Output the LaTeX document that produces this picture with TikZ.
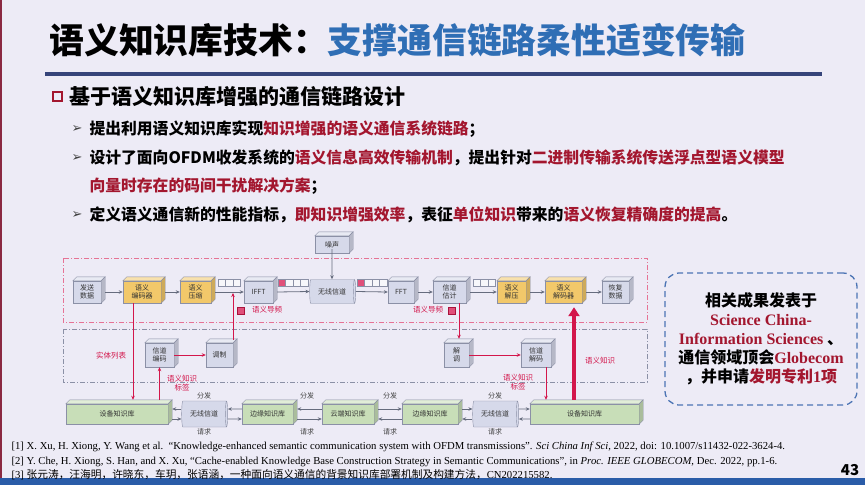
\documentclass[tikz,border=0pt]{standalone}
\usepackage{fontspec}
\setmainfont{Noto Sans CJK SC}
\newfontfamily\tms{Liberation Serif}
\newfontfamily\dejavu{DejaVu Sans}
\usetikzlibrary{arrows.meta,positioning,calc,shapes.geometric}

\definecolor{slidebg}{HTML}{EDEBF6}
\definecolor{titleblue}{HTML}{2F6EB5}
\definecolor{rulenavy}{HTML}{36447A}
\definecolor{darkred}{HTML}{A3162E}
\definecolor{linkred}{HTML}{D3164B}
\definecolor{boxgray}{HTML}{D6D9EA}
\definecolor{boxgold}{HTML}{F2C86A}
\definecolor{boxgreen}{HTML}{C8DEB8}
\definecolor{edgegray}{HTML}{8B90A6}
\definecolor{flowgray}{HTML}{666C7E}
\definecolor{pilotpink}{HTML}{E0507A}
\definecolor{notebox}{HTML}{4C74B4}
\definecolor{leftbar}{HTML}{8B2942}
\definecolor{bandblue}{HTML}{2A5CA8}

\tikzset{
  blk/.style={draw=edgegray,fill=#1,line width=0.4pt,inner sep=0pt,align=center,
    font=\fontsize{7}{8}\selectfont,text=black!80},
  blk/.default=boxgray,
  chan/.style={cylinder,shape aspect=0.35,draw=edgegray,fill=boxgray,inner sep=0pt,
    minimum height=46pt,minimum width=24pt,font=\fontsize{7}{8}\selectfont,text=black!80},
  cell/.style={draw=edgegray,fill=white!80!boxgray,minimum width=7.5pt,minimum height=7pt,
    inner sep=0pt,line width=0.4pt},
  flow/.style={flowgray,line width=0.8pt,-{Stealth[length=4pt,width=3.5pt]}},
  sem/.style={linkred,line width=0.9pt,-{Stealth[length=4pt,width=3.5pt]}},
  redtag/.style={text=linkred,font=\fontsize{7.5}{8.5}\selectfont,align=center},
  graytag/.style={text=black!75,font=\fontsize{7}{8}\selectfont},
  bul/.style={anchor=west,font=\fontsize{15.8}{18}\selectfont\bfseries},
  refline/.style={anchor=west,font=\tms\fontsize{10.7}{12}\selectfont},
  zone/.style={line width=0.8pt,dash pattern=on 5pt off 2pt on 1pt off 2pt},
}

\begin{document}
\begin{tikzpicture}[x=1pt,y=-1pt]
  \useasboundingbox (0,0) rectangle (865,485);
  \fill[slidebg] (0,0) rectangle (865,485);
  \draw[leftbar,line width=2pt] (1,0) -- (1,485);
  \fill[bandblue] (0,478) rectangle (865,485);

  % title
  \node[anchor=west,font=\fontsize{34.8}{38}\selectfont\bfseries] (title) at (46,40)
    {语义知识库技术：\textcolor{titleblue}{支撑通信链路柔性适变传输}};
  \fill[rulenavy] (45,72) rectangle (822,76);

  % heading and bullets
  \draw[darkred,line width=1.6pt] (53,92) rectangle (62,101);
  \node[anchor=west,font=\fontsize{21}{24}\selectfont\bfseries] (head) at (66,97)
    {基于语义知识库增强的通信链路设计};
  \foreach \y in {129,158,215}
    \node[text=black!75,font=\dejavu\fontsize{13}{14}\selectfont] (arr\y) at (77,\y) {➢};
  \node[bul] (b1) at (86,129)
    {提出利用语义知识库实现\textcolor{darkred}{知识增强的语义通信系统链路}；};
  \node[bul] (b2) at (86,158)
    {设计了面向OFDM收发系统的\textcolor{darkred}{语义信息高效传输机制}，提出针对\textcolor{darkred}{二进制传输系统传送浮点型语义模型}};
  \node[bul] (b3) at (86,186)
    {\textcolor{darkred}{向量时存在的码间干扰解决方案}；};
  \node[bul] (b4) at (86,215)
    {定义语义通信新的性能指标，\textcolor{darkred}{即知识增强效率}，表征\textcolor{darkred}{单位知识}带来的\textcolor{darkred}{语义恢复精确度的提高}。};

  % zones
  \draw[zone,draw=pilotpink!80!white] (63,258) rectangle (647,322);
  \draw[zone,draw=edgegray] (63,329) rectangle (647,382);

  % upper chain
  \node[blk,minimum width=28pt,minimum height=22pt] (send) at (87,292) {发送\\数据};
  \node[blk=boxgold,minimum width=38pt,minimum height=22pt] (enc) at (142,292) {语义\\编码器};
  \node[blk=boxgold,minimum width=31pt,minimum height=22pt] (cmp) at (195.5,292) {语义\\压缩};
  \node[blk,minimum width=29pt,minimum height=22pt] (ifft) at (258.5,292) {IFFT};
  \node[chan] (ch1) at (332,291.5) {无线信道};
  \node[blk,minimum width=34pt,minimum height=17pt] (noise) at (332,244.5) {噪声};
  \node[blk,minimum width=26pt,minimum height=22pt] (fft) at (401,292) {FFT};
  \node[blk,minimum width=33pt,minimum height=22pt] (est) at (449.5,292) {信道\\估计};
  \node[blk=boxgold,minimum width=29pt,minimum height=22pt] (dcmp) at (511.5,292) {语义\\解压};
  \node[blk=boxgold,minimum width=37pt,minimum height=22pt] (dec) at (563.5,292) {语义\\解码器};
  \node[blk,minimum width=27pt,minimum height=22pt] (recv) at (615.5,292) {恢复\\数据};

  % symbol registers
  \foreach \i in {0,1,2} \node[cell] (ra\i) at (221.75+7.5*\i,283) {};
  \foreach \i in {0,1,2,3} \node[cell] (rb\i) at (281.75+7.5*\i,283) {};
  \foreach \i in {0,1,2,3} \node[cell] (rc\i) at (360.75+7.5*\i,283) {};
  \foreach \i in {0,1,2} \node[cell] (rd\i) at (476.75+7.5*\i,283) {};
  \node[cell,fill=pilotpink] at (rb0) {};
  \node[cell,fill=pilotpink] at (rc0) {};

  % lower chain
  \node[blk,minimum width=29pt,minimum height=24pt] (chenc) at (159.5,355) {信道\\编码};
  \node[blk,minimum width=27pt,minimum height=24pt] (mod) at (219.5,355) {调制};
  \node[blk,minimum width=25pt,minimum height=24pt] (dmod) at (456.5,355) {解\\调};
  \node[blk,minimum width=30pt,minimum height=24pt] (chdec) at (536,355) {信道\\解码};

  % knowledge bases
  \node[blk=boxgreen,minimum width=102pt,minimum height=20pt] (devL) at (117,414) {设备知识库};
  \node[chan,minimum width=26pt] (chL) at (204,414) {无线信道};
  \node[blk=boxgreen,minimum width=51pt,minimum height=20pt] (edgeL) at (267.5,414) {边缘知识库};
  \node[blk=boxgreen,minimum width=52pt,minimum height=20pt] (cloud) at (348,414) {云端知识库};
  \node[blk=boxgreen,minimum width=56pt,minimum height=20pt] (edgeR) at (430,414) {边缘知识库};
  \node[chan,minimum width=26pt] (chR) at (495,414) {无线信道};
  \node[blk=boxgreen,minimum width=109pt,minimum height=20pt] (devR) at (584.5,414) {设备知识库};

  % box depth
  \foreach \n/\c in {send/boxgray,enc/boxgold,cmp/boxgold,ifft/boxgray,noise/boxgray,
      fft/boxgray,est/boxgray,dcmp/boxgold,dec/boxgold,recv/boxgray,chenc/boxgray,
      mod/boxgray,dmod/boxgray,chdec/boxgray,devL/boxgreen,edgeL/boxgreen,
      cloud/boxgreen,edgeR/boxgreen,devR/boxgreen} {
    \filldraw[draw=edgegray,line width=0.4pt,fill=\c!55!white]
      (\n.north west) -- ++(4,-4) -- ($(\n.north east)+(4,-4)$) -- (\n.north east) -- cycle;
    \filldraw[draw=edgegray,line width=0.4pt,fill=\c!85!black]
      (\n.north east) -- ++(4,-4) -- ($(\n.south east)+(4,-4)$) -- (\n.south east) -- cycle;
  }

  % signal flow
  \foreach \a/\b in {send/enc,enc/cmp,cmp/ifft,ifft/ch1,fft/est,est/dcmp,dcmp/dec,dec/recv}
    \draw[flow] ([xshift=4pt]\a.east) -- (\b.west);
  \draw[flow] (ch1.east) -- (fft.west);
  \draw[flow] ([yshift=4pt]noise.south) -- (ch1.north);

  % semantic links
  \draw[sem] (chenc) -- (mod);
  \draw[sem] (dmod) -- (chdec);
  \draw[sem] ([xshift=13.5pt,yshift=3pt]mod.north) -- ([xshift=13.5pt,yshift=-1pt]mod.north |- ifft.west);
  \draw[sem] ([xshift=9.5pt]est.south) -- ([xshift=9.5pt,yshift=4pt]est.south |- dmod.north);
  \draw[sem] ([xshift=-9pt]enc.south) -- ([xshift=-9pt,yshift=4pt]enc.south |- devL.north);
  \draw[sem] ([yshift=4pt]chenc.south |- devL.north) -- (chenc.south);
  \draw[sem] ([xshift=10pt]chdec.south) -- ([xshift=10pt,yshift=4pt]chdec.south |- devR.north);
  \draw[linkred,line width=3.5pt,-{Triangle[length=9pt,width=11pt]}]
    ([xshift=-10.5pt,yshift=4pt]devR.north) -- ([xshift=10.5pt,yshift=-4pt]dec.south);

  \node[draw=linkred!80!black,fill=pilotpink,minimum size=7pt,inner sep=0pt] (pilotA) at (241,311) {};
  \node[redtag] (tagA) at (267,309.5) {语义导频};
  \node[draw=linkred!80!black,fill=pilotpink,minimum size=7pt,inner sep=0pt] (pilotB) at (452,311) {};
  \node[redtag] (tagB) at (428,309.5) {语义导频};
  \node[redtag] (ent) at (111,356) {实体列表};
  \node[redtag,font=\fontsize{7.5}{9}\selectfont] (labL) at (182,383) {语义知识\\标签};
  \node[redtag,font=\fontsize{7.5}{9}\selectfont] (labR) at (518,382) {语义知识\\标签};
  \node[redtag] (semk) at (600,361) {语义知识};

  % knowledge distribution
  \draw[flow] ([yshift=5pt]chL.west) -- ([xshift=4pt,yshift=5pt]devL.east);
  \draw[flow] ([xshift=4pt,yshift=-5pt]devL.east) -- ([yshift=-5pt]chL.west);
  \draw[flow] ([yshift=5pt]edgeL.west) -- ([yshift=5pt]chL.east);
  \draw[flow] ([yshift=-5pt]chL.east) -- ([yshift=-5pt]edgeL.west);
  \draw[flow] ([yshift=5pt]cloud.west) -- ([xshift=4pt,yshift=5pt]edgeL.east);
  \draw[flow] ([xshift=4pt,yshift=-5pt]edgeL.east) -- ([yshift=-5pt]cloud.west);
  \draw[flow] ([xshift=4pt,yshift=5pt]cloud.east) -- ([yshift=5pt]edgeR.west);
  \draw[flow] ([yshift=-5pt]edgeR.west) -- ([xshift=4pt,yshift=-5pt]cloud.east);
  \draw[flow] ([xshift=4pt,yshift=5pt]edgeR.east) -- ([yshift=5pt]chR.west);
  \draw[flow] ([yshift=-5pt]chR.west) -- ([xshift=4pt,yshift=-5pt]edgeR.east);
  \draw[flow] ([yshift=5pt]chR.east) -- ([yshift=5pt]devR.west);
  \draw[flow] ([yshift=-5pt]devR.west) -- ([yshift=-5pt]chR.east);

  \foreach \x/\k in {204/1,307/2,390/3,495/4} {
    \node[graytag] (dist\k) at (\x,396) {分发};
    \node[graytag] (req\k) at (\x,432) {请求};
  }

  % results note
  \node[draw=notebox,line width=1.3pt,dash pattern=on 6pt off 4pt,rounded corners=14pt,
    minimum width=192pt,minimum height=132pt] (note) at (761,339) {};
  \node[align=center,font=\fontsize{16}{19}\selectfont\bfseries] (notetext) at (note.center)
    {相关成果发表于\\
     \textcolor{darkred}{\tms Science China-}\\
     \textcolor{darkred}{\tms Information Sciences} 、\\
     通信领域顶会\textcolor{darkred}{\tms Globecom}\\
     ，并申请\textcolor{darkred}{发明专利{\tms 1}项}};

  % references
  \node[refline] (r1) at (8,447) {[1] X. Xu, H. Xiong, Y. Wang et al.\ \ “Knowledge-enhanced semantic communication system with OFDM transmissions”. \textit{Sci China Inf Sci}, 2022, doi: 10.1007/s11432-022-3624-4.};
  \node[refline] (r2) at (8,462) {[2] Y. Che, H. Xiong, S. Han, and X. Xu, “Cache-enabled Knowledge Base Construction Strategy in Semantic Communications”, in \textit{Proc. IEEE GLOBECOM}, Dec. 2022, pp.1-6.};
  \node[refline] (r3) at (8,475) {[3] {\rmfamily 张元涛，汪海明，许晓东，车玥，张语涵，一种面向语义通信的背景知识库部署机制及构建方法，}CN202215582.};
  \node[font=\fontsize{15}{17}\selectfont\bfseries] (page) at (850,470) {43};
\end{tikzpicture}
\end{document}
